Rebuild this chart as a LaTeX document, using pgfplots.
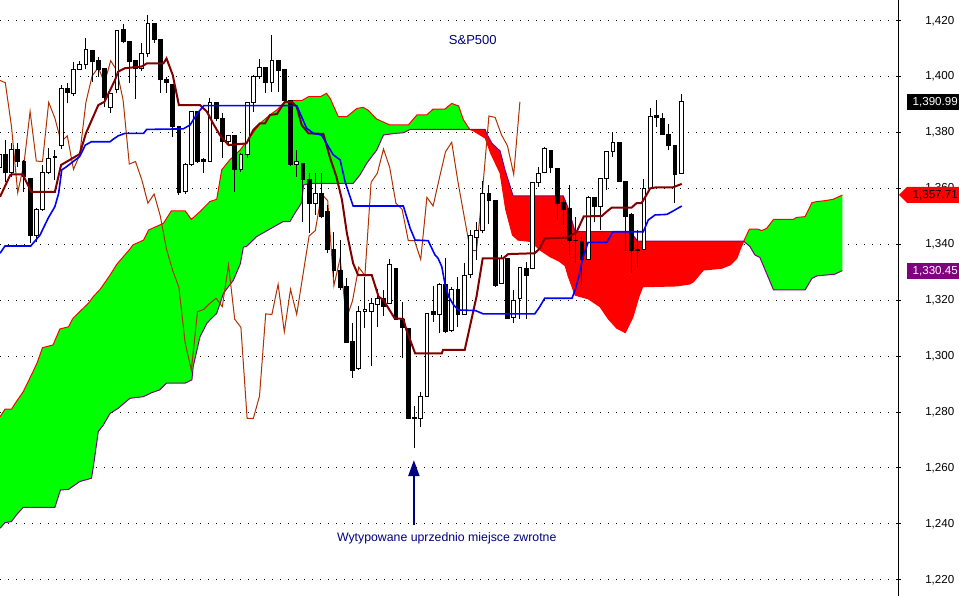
\documentclass[border=0pt]{standalone}
\usepackage{pgfplots}
\pgfplotsset{compat=1.18}
\usepackage{pgfplotstable}
\usetikzlibrary{arrows.meta}
\usepackage{fontspec}
\setmainfont{Liberation Sans}
\definecolor{cgreen}{RGB}{0,255,0}
\definecolor{cred}{RGB}{255,0,0}
\definecolor{cpurple}{RGB}{128,0,128}
\definecolor{cnavy}{RGB}{0,0,128}
\definecolor{ctenkan}{RGB}{128,0,0}
\definecolor{ckijun}{RGB}{0,0,255}
\definecolor{cchikou}{RGB}{176,48,0}

\pgfplotstableread{
i O H L C
0 1367.5 1375.0 1366.0 1372.3
2 1365.8 1376.1 1364.2 1374.0
6 1343.1 1353.0 1341.0 1352.5
7 1352.5 1368.4 1352.0 1365.8
8 1365.8 1374.3 1365.0 1370.8
10 1375.2 1397.0 1374.0 1395.8
12 1394.0 1405.3 1393.0 1402.6
13 1402.6 1405.6 1402.4 1404.2
14 1404.2 1413.7 1402.6 1409.8
18 1389.0 1394.0 1387.1 1394.0
19 1395.5 1416.7 1394.0 1416.5
23 1403.0 1411.9 1402.0 1408.3
24 1408.3 1422.0 1407.0 1419.1
30 1358.8 1369.0 1358.0 1368.7
31 1368.7 1387.5 1368.0 1387.5
34 1369.8 1392.2 1369.5 1390.8
37 1376.7 1379.0 1376.0 1378.8
39 1366.8 1372.5 1366.0 1372.0
40 1372.0 1391.0 1371.0 1390.8
41 1390.8 1400.5 1387.5 1400.2
42 1400.2 1406.2 1399.0 1403.3
44 1397.8 1414.9 1394.6 1405.7
48 1368.7 1373.7 1364.2 1369.6
51 1354.7 1365.4 1350.5 1358.0
58 1295.6 1317.9 1295.0 1315.9
59 1315.9 1328.4 1309.9 1316.7
60 1315.9 1320.7 1296.5 1318.9
61 1318.6 1323.9 1310.5 1320.7
63 1318.9 1334.6 1318.6 1332.6
68 1277.7 1287.3 1274.5 1285.7
69 1285.7 1315.5 1285.5 1315.1
71 1314.9 1326.0 1308.2 1325.7
73 1309.3 1324.8 1308.8 1323.9
75 1314.9 1333.2 1314.7 1329.0
76 1329.2 1345.0 1328.0 1343.0
77 1342.5 1348.1 1334.4 1344.9
78 1344.9 1362.8 1343.9 1358.0
81 1326.0 1336.2 1325.8 1335.0
83 1313.9 1323.6 1311.7 1319.8
84 1320.7 1332.0 1313.3 1331.8
86 1331.4 1362.2 1331.0 1362.2
87 1362.2 1367.8 1360.6 1365.4
88 1365.7 1374.7 1365.4 1374.1
95 1334.6 1357.3 1334.4 1356.8
97 1353.7 1363.6 1345.1 1363.6
98 1363.6 1373.1 1359.4 1373.1
99 1373.1 1380.3 1371.4 1376.5
104 1338.2 1363.2 1338.0 1360.0
105 1360.0 1388.6 1360.0 1385.9
110 1365.4 1393.8 1365.4 1390.99
}\whiteC

\pgfplotstableread{
i O H L C
1 1372.3 1377.3 1362.4 1365.6
3 1374.0 1376.1 1367.8 1369.6
4 1369.8 1370.0 1358.8 1364.2
5 1363.6 1363.6 1340.3 1343.1
9 1371.3 1373.7 1363.0 1371.0
11 1395.8 1397.6 1390.4 1394.3
15 1409.5 1409.5 1398.2 1405.3
16 1405.6 1407.1 1400.0 1402.6
17 1403.0 1403.0 1389.0 1392.6
20 1416.7 1418.8 1412.0 1412.5
21 1412.7 1412.7 1397.6 1405.3
22 1405.6 1405.6 1391.9 1403.0
25 1419.1 1419.1 1412.0 1413.3
26 1413.1 1413.1 1394.3 1398.8
27 1398.8 1400.0 1394.3 1397.8
28 1397.3 1397.3 1378.5 1382.1
29 1382.3 1382.3 1357.6 1358.5
32 1387.5 1387.5 1369.0 1369.8
33 1370.2 1371.0 1365.6 1369.6
35 1390.8 1390.8 1384.0 1385.1
36 1385.1 1386.9 1370.8 1376.7
38 1378.8 1378.8 1358.8 1366.8
43 1403.3 1403.5 1394.3 1397.8
45 1405.6 1405.8 1394.6 1402.1
46 1402.4 1402.4 1391.0 1391.6
47 1391.6 1391.6 1368.0 1368.7
49 1369.0 1369.0 1348.1 1363.2
50 1363.2 1365.4 1344.0 1354.7
52 1358.0 1365.4 1349.3 1350.1
53 1351.9 1354.0 1336.8 1338.2
54 1338.2 1344.5 1328.4 1330.6
55 1330.8 1341.5 1323.6 1324.6
56 1324.8 1327.8 1304.8 1304.8
57 1305.2 1311.7 1292.3 1295.0
62 1320.7 1323.6 1314.4 1317.7
64 1331.2 1331.2 1312.9 1313.2
65 1313.2 1319.5 1299.2 1310.3
66 1309.9 1309.9 1277.4 1277.7
67 1278.0 1282.1 1267.0 1277.7
70 1316.1 1325.0 1312.3 1314.9
72 1325.7 1335.0 1308.2 1308.7
74 1323.9 1328.4 1310.5 1314.9
79 1358.0 1361.2 1347.3 1355.6
80 1355.6 1355.6 1324.8 1325.2
82 1335.0 1335.0 1313.3 1313.3
85 1331.4 1333.8 1313.3 1328.8
89 1373.7 1373.7 1365.4 1367.5
90 1367.2 1367.2 1348.7 1354.7
91 1354.9 1357.0 1347.0 1352.5
92 1352.9 1361.2 1336.2 1341.3
93 1341.5 1349.9 1333.4 1341.3
94 1340.9 1342.7 1325.4 1334.6
96 1356.8 1357.0 1348.1 1353.7
100 1376.5 1376.5 1362.4 1362.4
101 1362.4 1362.4 1337.7 1350.1
102 1350.5 1351.1 1329.6 1337.9
103 1338.2 1345.1 1331.8 1337.7
106 1386.0 1391.6 1381.9 1385.4
107 1385.1 1386.8 1379.0 1379.3
108 1379.3 1382.9 1373.7 1375.2
109 1375.2 1375.2 1354.9 1365.0
}\blackC

\pgfplotstableread{
x y
-1 1413.3
0 1398.8
1 1397.8
2 1382.1
3 1358.5
4 1368.7
5 1387.5
6 1369.8
7 1369.6
8 1390.8
9 1385.1
10 1376.7
11 1378.8
12 1366.8
13 1372.0
14 1390.8
15 1400.2
16 1403.3
17 1397.8
18 1405.7
19 1402.1
20 1391.6
21 1368.7
22 1369.6
23 1363.2
24 1354.7
25 1358.0
26 1350.1
27 1338.2
28 1330.6
29 1324.6
30 1304.8
31 1295.0
32 1315.9
33 1316.7
34 1318.9
35 1320.7
36 1317.7
37 1332.6
38 1313.2
39 1310.3
40 1277.7
41 1277.7
42 1285.7
43 1315.1
44 1314.9
45 1325.7
46 1308.7
47 1323.9
48 1314.9
49 1329.0
50 1343.0
51 1344.9
52 1358.0
53 1355.6
54 1325.2
55 1335.0
56 1313.3
57 1319.8
58 1331.8
59 1328.8
60 1362.2
61 1365.4
62 1374.1
63 1367.5
64 1354.7
65 1352.5
66 1341.3
67 1341.3
68 1334.6
69 1356.8
70 1353.7
71 1363.6
72 1373.1
73 1376.5
74 1362.4
75 1350.1
76 1337.9
77 1337.7
78 1360.0
79 1385.9
80 1385.4
81 1379.3
82 1375.2
83 1365.0
84 1390.99
}\chikou

\pgfplotstableread{
x y
0.15 1357.0
1.8 1364.8
2.0 1365.0
3.8 1365.0
5.2 1358.8
9.0 1358.8
10.0 1368.4
11.4 1370.2
13.0 1372.3
14.0 1379.7
16.0 1389.8
17.0 1391.0
18.7 1398.8
19.2 1401.8
20.3 1403.0
23.0 1403.6
23.8 1404.7
26.5 1404.7
27.0 1406.5
28.0 1400.6
29.0 1389.8
32.4 1389.8
33.5 1387.5
34.5 1383.3
35.6 1379.1
37.0 1375.5
38.9 1375.9
39.9 1376.1
41.0 1380.9
42.1 1383.3
42.9 1383.3
43.7 1386.3
44.8 1386.6
46.1 1391.0
47.2 1391.0
48.0 1389.2
48.8 1382.7
49.9 1379.7
52.3 1379.5
53.4 1370.8
54.4 1364.2
55.3 1355.9
56.1 1343.9
57.1 1333.2
57.9 1329.0
60.1 1329.0
61.2 1321.3
62.0 1320.0
63.8 1313.5
65.2 1313.3
65.7 1309.3
67.1 1301.0
71.4 1301.0
71.6 1302.2
75.1 1302.2
77.0 1321.3
78.0 1335.0
81.3 1335.0
82.1 1336.5
86.4 1336.8
87.2 1338.5
88.0 1342.1
91.5 1342.4
93.1 1344.2
94.3 1350.0
97.2 1350.1
98.0 1351.7
98.8 1353.1
102.0 1353.1
102.8 1354.7
103.6 1354.7
104.4 1357.6
105.0 1360.0
106.0 1360.4
108.7 1360.4
110.1 1361.6
}\tenkan

\pgfplotstableread{
x y
0.15 1336.8
0.95 1339.4
5.1 1339.4
6.6 1343.3
7.9 1349.3
9.0 1353.5
9.6 1358.2
10.1 1366.6
10.9 1367.8
11.7 1369.2
13.0 1371.4
13.9 1375.5
14.9 1376.7
17.9 1376.7
18.4 1377.6
19.2 1378.8
20.3 1379.7
23.3 1379.7
23.8 1381.1
29.7 1381.3
30.8 1382.7
31.9 1386.6
33.0 1389.6
48.0 1389.6
49.6 1381.5
50.7 1379.7
52.0 1379.1
52.8 1376.1
53.9 1372.0
55.0 1370.2
55.8 1362.4
57.1 1353.7
65.2 1353.7
66.3 1345.7
67.1 1341.5
69.2 1341.3
70.3 1336.2
70.8 1335.0
71.4 1332.0
71.9 1326.0
72.5 1321.3
73.3 1318.3
74.1 1316.5
76.8 1316.3
78.1 1315.1
86.4 1315.1
87.2 1317.7
88.0 1320.7
92.4 1320.7
92.9 1323.6
93.5 1328.4
94.2 1335.6
95.0 1340.7
98.0 1340.7
99.0 1344.5
103.9 1344.5
104.7 1348.7
105.8 1350.5
107.7 1350.7
108.7 1351.9
110.1 1353.7
}\kijun

\pgfplotstableread{
x y
0.15 1278.3
0.95 1281.0
2.0 1281.0
2.6 1283.1
3.9 1287.3
5.2 1293.2
6.1 1297.4
7.0 1303.0
8.7 1304.0
9.8 1309.7
11.2 1310.5
11.9 1313.5
13.0 1315.9
14.4 1318.9
15.2 1321.3
16.3 1323.9
17.9 1329.0
19.0 1332.9
21.1 1338.3
21.6 1339.8
23.3 1341.5
24.1 1345.1
26.5 1347.5
27.8 1352.0
30.0 1352.0
31.0 1348.9
32.4 1351.7
34.0 1355.3
35.1 1356.1
35.9 1366.6
37.2 1370.2
38.9 1373.8
40.5 1378.5
41.5 1381.5
42.1 1383.3
43.7 1386.3
44.8 1388.1
46.1 1391.0
47.4 1391.4
48.8 1391.4
49.9 1392.8
51.8 1392.8
52.8 1394.0
53.4 1392.2
54.7 1385.7
56.1 1385.7
57.7 1388.6
58.7 1389.0
59.5 1388.0
60.9 1384.8
63.0 1382.7
66.0 1382.7
67.4 1386.3
69.0 1386.3
70.0 1388.4
71.9 1388.4
73.0 1390.4
74.1 1389.5
74.9 1384.5
75.9 1381.1
76.5 1380.6
78.4 1378.0
79.3 1372.5
80.8 1365.5
81.7 1352.5
82.8 1343.3
83.7 1341.5
85.8 1341.0
87.2 1338.0
88.9 1335.5
90.3 1334.0
91.3 1332.3
91.8 1328.5
92.9 1321.8
95.0 1320.5
96.9 1317.7
98.3 1313.2
99.6 1310.0
101.0 1308.4
102.2 1313.8
103.2 1321.3
103.8 1324.8
109.3 1325.1
111.4 1325.8
112.0 1326.6
113.6 1330.8
116.5 1331.4
117.9 1332.6
119.0 1335.0
119.5 1338.0
120.1 1341.1
121.0 1345.4
122.4 1345.4
123.0 1344.9
123.8 1345.7
124.9 1348.9
128.1 1348.9
128.6 1349.6
130.0 1349.9
131.1 1354.9
131.9 1355.3
133.2 1355.6
134.5 1356.1
136.0 1357.6
}\senA

\pgfplotstableread{
x y
0.15 1238.4
0.95 1240.4
2.0 1240.8
2.8 1243.2
3.9 1245.9
9.0 1245.9
9.9 1252.1
11.2 1252.3
13.0 1255.1
14.9 1256.3
15.2 1260.4
16.0 1273.0
16.8 1275.3
17.9 1279.5
19.2 1281.3
21.1 1284.9
23.3 1285.5
24.6 1286.9
25.9 1287.9
27.0 1290.3
30.0 1290.3
31.1 1291.5
31.3 1296.2
32.4 1306.9
33.5 1311.7
34.0 1312.9
35.1 1315.3
36.2 1322.5
37.8 1327.2
38.9 1333.0
39.4 1339.0
39.9 1339.2
41.5 1342.7
43.7 1345.5
45.8 1348.1
46.9 1348.1
47.7 1351.1
48.8 1354.9
49.1 1361.2
50.1 1361.8
57.1 1361.8
58.2 1364.8
59.3 1369.0
60.9 1373.7
62.0 1379.1
63.9 1379.7
65.2 1379.9
66.3 1381.1
75.9 1381.1
78.4 1381.1
78.6 1379.7
79.5 1376.1
80.8 1373.4
81.6 1366.6
82.9 1357.3
91.0 1357.3
91.8 1352.9
92.9 1344.5
101.8 1344.5
103.0 1341.1
120.1 1341.1
121.1 1339.2
121.9 1336.2
122.7 1335.3
124.9 1323.7
130.0 1323.7
131.1 1327.8
131.9 1328.7
134.8 1329.3
136.0 1330.6
}\senB

% cloud polygons: upper edge forward, lower edge back
\pgfplotstableread{
x y
0.15 1278.3
0.95 1281.0
2.0 1281.0
2.6 1283.1
3.9 1287.3
5.2 1293.2
6.1 1297.4
7.0 1303.0
8.7 1304.0
9.8 1309.7
11.2 1310.5
11.9 1313.5
13.0 1315.9
14.4 1318.9
15.2 1321.3
16.3 1323.9
17.9 1329.0
19.0 1332.9
21.1 1338.3
21.6 1339.8
23.3 1341.5
24.1 1345.1
26.5 1347.5
27.8 1352.0
30.0 1352.0
31.0 1348.9
32.4 1351.7
34.0 1355.3
35.1 1356.1
35.9 1366.6
37.2 1370.2
38.9 1373.8
40.5 1378.5
41.5 1381.5
42.1 1383.3
43.7 1386.3
44.8 1388.1
46.1 1391.0
47.4 1391.4
48.8 1391.4
49.9 1392.8
51.8 1392.8
52.8 1394.0
53.4 1392.2
54.7 1385.7
56.1 1385.7
57.7 1388.6
58.7 1389.0
59.5 1388.0
60.9 1384.8
63.0 1382.7
66.0 1382.7
67.4 1386.3
69.0 1386.3
70.0 1388.4
71.9 1388.4
73.0 1390.4
74.1 1389.5
74.9 1384.5
75.9 1381.1
66.3 1381.1
65.2 1379.9
63.9 1379.7
62.0 1379.1
60.9 1373.7
59.3 1369.0
58.2 1364.8
57.1 1361.8
50.1 1361.8
49.1 1361.2
48.8 1354.9
47.7 1351.1
46.9 1348.1
45.8 1348.1
43.7 1345.5
41.5 1342.7
39.9 1339.2
39.4 1339.0
38.9 1333.0
37.8 1327.2
36.2 1322.5
35.1 1315.3
34.0 1312.9
33.5 1311.7
32.4 1306.9
31.3 1296.2
31.1 1291.5
30.0 1290.3
27.0 1290.3
25.9 1287.9
24.6 1286.9
23.3 1285.5
21.1 1284.9
19.2 1281.3
17.9 1279.5
16.8 1275.3
16.0 1273.0
15.2 1260.4
14.9 1256.3
13.0 1255.1
11.2 1252.3
9.9 1252.1
9.0 1245.9
3.9 1245.9
2.8 1243.2
2.0 1240.8
0.95 1240.4
0.15 1238.4
}\cloudGone

\pgfplotstableread{
x y
75.9 1381.1
78.4 1381.1
78.6 1379.7
79.5 1376.1
80.8 1373.4
81.6 1366.6
82.9 1357.3
91.0 1357.3
91.8 1352.9
92.9 1344.5
101.8 1344.5
103.0 1341.1
120.1 1341.1
119.5 1338.0
119.0 1335.0
117.9 1332.6
116.5 1331.4
113.6 1330.8
112.0 1326.6
111.4 1325.8
109.3 1325.1
103.8 1324.8
103.2 1321.3
102.2 1313.8
101.0 1308.4
99.6 1310.0
98.3 1313.2
96.9 1317.7
95.0 1320.5
92.9 1321.8
91.8 1328.5
91.3 1332.3
90.3 1334.0
88.9 1335.5
87.2 1338.0
85.8 1341.0
83.7 1341.5
82.8 1343.3
81.7 1352.5
80.8 1365.5
79.3 1372.5
78.4 1378.0
76.5 1380.6
}\cloudR

\pgfplotstableread{
x y
120.1 1341.1
121.0 1345.4
122.4 1345.4
123.0 1344.9
123.8 1345.7
124.9 1348.9
128.1 1348.9
128.6 1349.6
130.0 1349.9
131.1 1354.9
131.9 1355.3
133.2 1355.6
134.5 1356.1
136.0 1357.6
136.0 1330.6
134.8 1329.3
131.9 1328.7
131.1 1327.8
130.0 1323.7
124.9 1323.7
122.7 1335.3
121.9 1336.2
121.1 1339.2
}\cloudGtwo

\begin{document}
\begin{tikzpicture}
\useasboundingbox (0,0) rectangle (959pt,596pt);
\begin{axis}[
  at={(0,0)}, anchor=south west,
  scale only axis, width=898pt, height=596pt,
  xmin=0.145, xmax=144.98, ymin=1214.17, ymax=1427.41,
  axis x line=none, axis y line*=right,
  y axis line style={black, line width=1pt},
  ytick={1220,1240,...,1420},
  ymajorgrids,
  major grid style={black, line width=1pt, dash pattern=on 1pt off 7pt},
  tick style={black, line width=1pt},
  tick align=center, major tick length=5pt,
  yticklabel style={font=\fontsize{11.6}{13}\selectfont, anchor=east, xshift=54pt, inner sep=0pt},
  /pgf/number format/1000 sep={,},
  /pgf/number format/assume math mode=true,
]
\addplot[fill=cgreen, draw=none] table {\cloudGone};
\addplot[fill=cred, draw=none] table {\cloudR};
\addplot[fill=cgreen, draw=none] table {\cloudGtwo};
\addplot[cred, line width=1pt] table {\senA};
\addplot[cpurple, line width=1pt] table {\senB};
\addplot[cchikou, line width=1pt] table {\chikou};
% wicks
\addplot[draw=none, mark=none, error bars/.cd, y dir=plus, y explicit, error mark=none,
  error bar style={draw=black, line width=1pt, solid}]
  table[x=i, y=L, y error expr=\thisrow{H}-\thisrow{L}] {\whiteC};
\addplot[draw=none, mark=none, error bars/.cd, y dir=plus, y explicit, error mark=none,
  error bar style={draw=black, line width=1pt, solid}]
  table[x=i, y=L, y error expr=\thisrow{H}-\thisrow{L}] {\blackC};
% white bodies
\addplot[draw=none, mark=none, error bars/.cd, y dir=plus, y explicit, error mark=none,
  error bar style={draw=black, line width=4.8pt, solid}]
  table[x=i, y expr=\thisrow{O}-0.18, y error expr=\thisrow{C}-\thisrow{O}+0.36] {\whiteC};
\addplot[draw=none, mark=none, error bars/.cd, y dir=plus, y explicit, error mark=none,
  error bar style={draw=white, line width=2.8pt, solid}]
  table[x=i, y expr=\thisrow{O}+0.18, y error expr={max(\thisrow{C}-\thisrow{O}-0.36,0)}] {\whiteC};
% black bodies
\addplot[draw=none, mark=none, error bars/.cd, y dir=plus, y explicit, error mark=none,
  error bar style={draw=black, line width=4.8pt, solid}]
  table[x=i, y expr=\thisrow{C}-0.18, y error expr=\thisrow{O}-\thisrow{C}+0.36] {\blackC};
\addplot[ctenkan, line width=2pt] table {\tenkan};
\addplot[ckijun, line width=1.6pt] table {\kijun};
\node[text=cnavy, font=\fontsize{13}{15}\selectfont] at (axis cs:76.4,1413.1) {S\&P500};
\draw[cnavy, line width=2pt, -{Triangle[width=11pt,length=16pt]}] (axis cs:66.9,1239.6) -- (axis cs:66.9,1262.8);
\node[text=cnavy, font=\fontsize{12.3}{14}\selectfont] at (axis cs:72.2,1234.9) {Wytypowane uprzednio miejsce zwrotne};
\coordinate (P1) at (axis cs:144.98,1390.99);
\coordinate (P2) at (axis cs:144.98,1357.71);
\coordinate (P3) at (axis cs:144.98,1330.45);
\end{axis}
\node[fill=black, text=white, font=\fontsize{11.6}{13}\selectfont, anchor=east, inner xsep=1pt, inner ysep=0pt, minimum height=16pt, text width=50pt, align=right] at ([xshift=61pt]P1) {1,390.99};
\fill[cred] ([xshift=1pt]P2) -- ([xshift=9pt,yshift=8pt]P2) -- ([xshift=61pt,yshift=8pt]P2) -- ([xshift=61pt,yshift=-8pt]P2) -- ([xshift=9pt,yshift=-8pt]P2) -- cycle;
\node[text=black, font=\fontsize{11.6}{13}\selectfont, anchor=east, inner xsep=1pt, inner ysep=0pt, minimum height=16pt, text width=50pt, align=right] at ([xshift=61pt]P2) {1,357.71};
\node[fill=cpurple, text=white, font=\fontsize{11.6}{13}\selectfont, anchor=east, inner xsep=1pt, inner ysep=0pt, minimum height=16pt, text width=50pt, align=right] at ([xshift=61pt]P3) {1,330.45};
\end{tikzpicture}
\end{document}
